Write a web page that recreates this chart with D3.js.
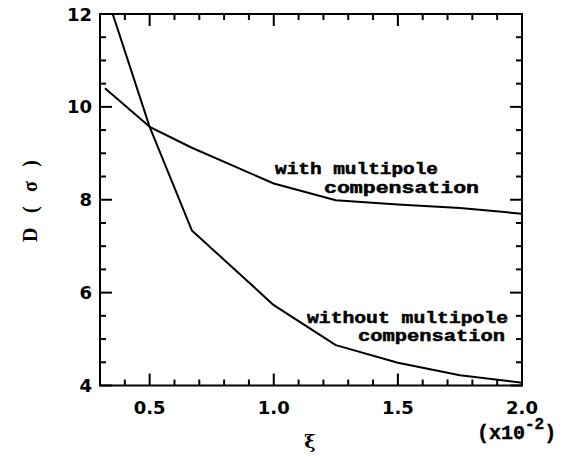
<!DOCTYPE html>
<html>
<head>
<meta charset="utf-8">
<script src="https://cdn.jsdelivr.net/npm/d3@7"></script>
<style>
  body { margin: 0; background: #fff; }
  svg { display: block; }
</style>
</head>
<body>
<svg id="chart" width="577" height="457"></svg>
<script>
// values
const xiValues = [0.32, 0.5, 0.67, 1.0, 1.25, 1.5, 1.75, 2.0];
const dWithComp = [10.40, 9.57, 9.12, 8.35, 7.99, 7.90, 7.82, 7.70];
const dWithoutComp = [12.51, 9.57, 7.34, 5.73, 4.87, 4.49, 4.22, 4.06];

const xMajorTicks = [0.5, 1.0, 1.5, 2.0];
const xTickLabels = ["0.5", "1.0", "1.5", "2.0"];
const yMajorTicks = [4, 6, 8, 10, 12];
const yTickLabels = ["4", "6", "8", "10", "12"];

const svg = d3.select("#chart");
const plotL = 100, plotR = 522, plotT = 14, plotB = 385.5;

const x = d3.scaleLinear().domain([0.3, 2.0]).range([plotL, plotR]);
const y = d3.scaleLinear().domain([4, 12]).range([plotB, plotT]);

const xMinor = d3.range(0.4, 2.0, 0.1).filter(v => !xMajorTicks.some(m => Math.abs(m - v) < 1e-6));
const yMinor = d3.range(4.5, 12, 0.5).filter(v => !yMajorTicks.some(m => Math.abs(m - v) < 1e-6));

svg.append("clipPath").attr("id", "plot")
  .append("rect").attr("x", plotL).attr("y", plotT)
  .attr("width", plotR - plotL).attr("height", plotB - plotT);

const tickLen = 12, minorLen = 6;
const ticks = svg.append("g").attr("stroke", "#000").attr("stroke-width", 2);

// bottom and top ticks
[[xMajorTicks, tickLen], [xMinor, minorLen]].forEach(([vals, len]) => {
  ticks.selectAll(null).data(vals).join("line")
    .attr("x1", d => x(d)).attr("x2", d => x(d))
    .attr("y1", plotB).attr("y2", plotB - len);
  ticks.selectAll(null).data(vals).join("line")
    .attr("x1", d => x(d)).attr("x2", d => x(d))
    .attr("y1", plotT).attr("y2", plotT + len);
});
// left and right ticks
[[yMajorTicks, tickLen], [yMinor, minorLen]].forEach(([vals, len]) => {
  ticks.selectAll(null).data(vals).join("line")
    .attr("y1", d => y(d)).attr("y2", d => y(d))
    .attr("x1", plotL).attr("x2", plotL + len);
  ticks.selectAll(null).data(vals).join("line")
    .attr("y1", d => y(d)).attr("y2", d => y(d))
    .attr("x1", plotR).attr("x2", plotR - len);
});

// frame
svg.append("rect")
  .attr("x", plotL).attr("y", plotT)
  .attr("width", plotR - plotL).attr("height", plotB - plotT)
  .attr("fill", "none").attr("stroke", "#000").attr("stroke-width", 2);

// curves
const line = d3.line().x((d, i) => x(xiValues[i])).y(d => y(d));
const curves = svg.append("g").attr("clip-path", "url(#plot)")
  .attr("fill", "none").attr("stroke", "#000").attr("stroke-width", 2)
  .attr("stroke-linejoin", "round");
curves.append("path").attr("d", line(dWithComp));
curves.append("path").attr("d", line(dWithoutComp));

// tick labels
const tickFont = "DejaVu Sans, sans-serif";
svg.append("g").selectAll("text").data(yMajorTicks).join("text")
  .attr("x", 92).attr("y", d => y(d) + 6.5)
  .attr("text-anchor", "end")
  .attr("font-family", tickFont).attr("font-weight", "bold").attr("font-size", 18)
  .text((d, i) => yTickLabels[i]);

svg.append("g").selectAll("text").data(xMajorTicks).join("text")
  .attr("x", d => x(d)).attr("y", 414)
  .attr("text-anchor", "middle")
  .attr("font-family", tickFont).attr("font-weight", "bold").attr("font-size", 18)
  .text((d, i) => xTickLabels[i]);

// (x10^-2)
const monoFont = "Liberation Mono, monospace";
const mult = svg.append("text")
  .attr("x", 477).attr("y", 439)
  .attr("font-family", monoFont).attr("font-weight", "bold").attr("font-size", 20)
  .attr("stroke", "#000").attr("stroke-width", 0.4);
mult.append("tspan").text("(x10");
mult.append("tspan").attr("dy", -10).attr("font-size", 16).text("-2");
mult.append("tspan").attr("dy", 10).text(")");

// axis titles
svg.append("text")
  .attr("x", 310).attr("y", 448)
  .attr("text-anchor", "middle")
  .attr("font-family", "DejaVu Serif, serif").attr("font-weight", "bold").attr("font-size", 19)
  .text("ξ");

svg.append("text")
  .attr("transform", "translate(37,201) rotate(-90)")
  .attr("text-anchor", "middle")
  .attr("font-family", "Liberation Serif, serif").attr("font-weight", "bold").attr("font-size", 20)
  .attr("textLength", 82).attr("lengthAdjust", "spacing")
  .text("D ( σ )");

// curve annotations
const notes = [
  { text: "with multipole", x: 275, y: 174, w: 163 },
  { text: "compensation", x: 324, y: 192.5, w: 155 },
  { text: "without multipole", x: 307, y: 322.5, w: 201 },
  { text: "compensation", x: 358, y: 340.5, w: 147 }
];
svg.append("g").selectAll("text").data(notes).join("text")
  .attr("x", d => d.x).attr("y", d => d.y)
  .attr("textLength", d => d.w).attr("lengthAdjust", "spacingAndGlyphs")
  .attr("font-family", monoFont).attr("font-weight", "bold").attr("font-size", 16)
  .attr("stroke", "#000").attr("stroke-width", 0.5)
  .text(d => d.text);
</script>
</body>
</html>
